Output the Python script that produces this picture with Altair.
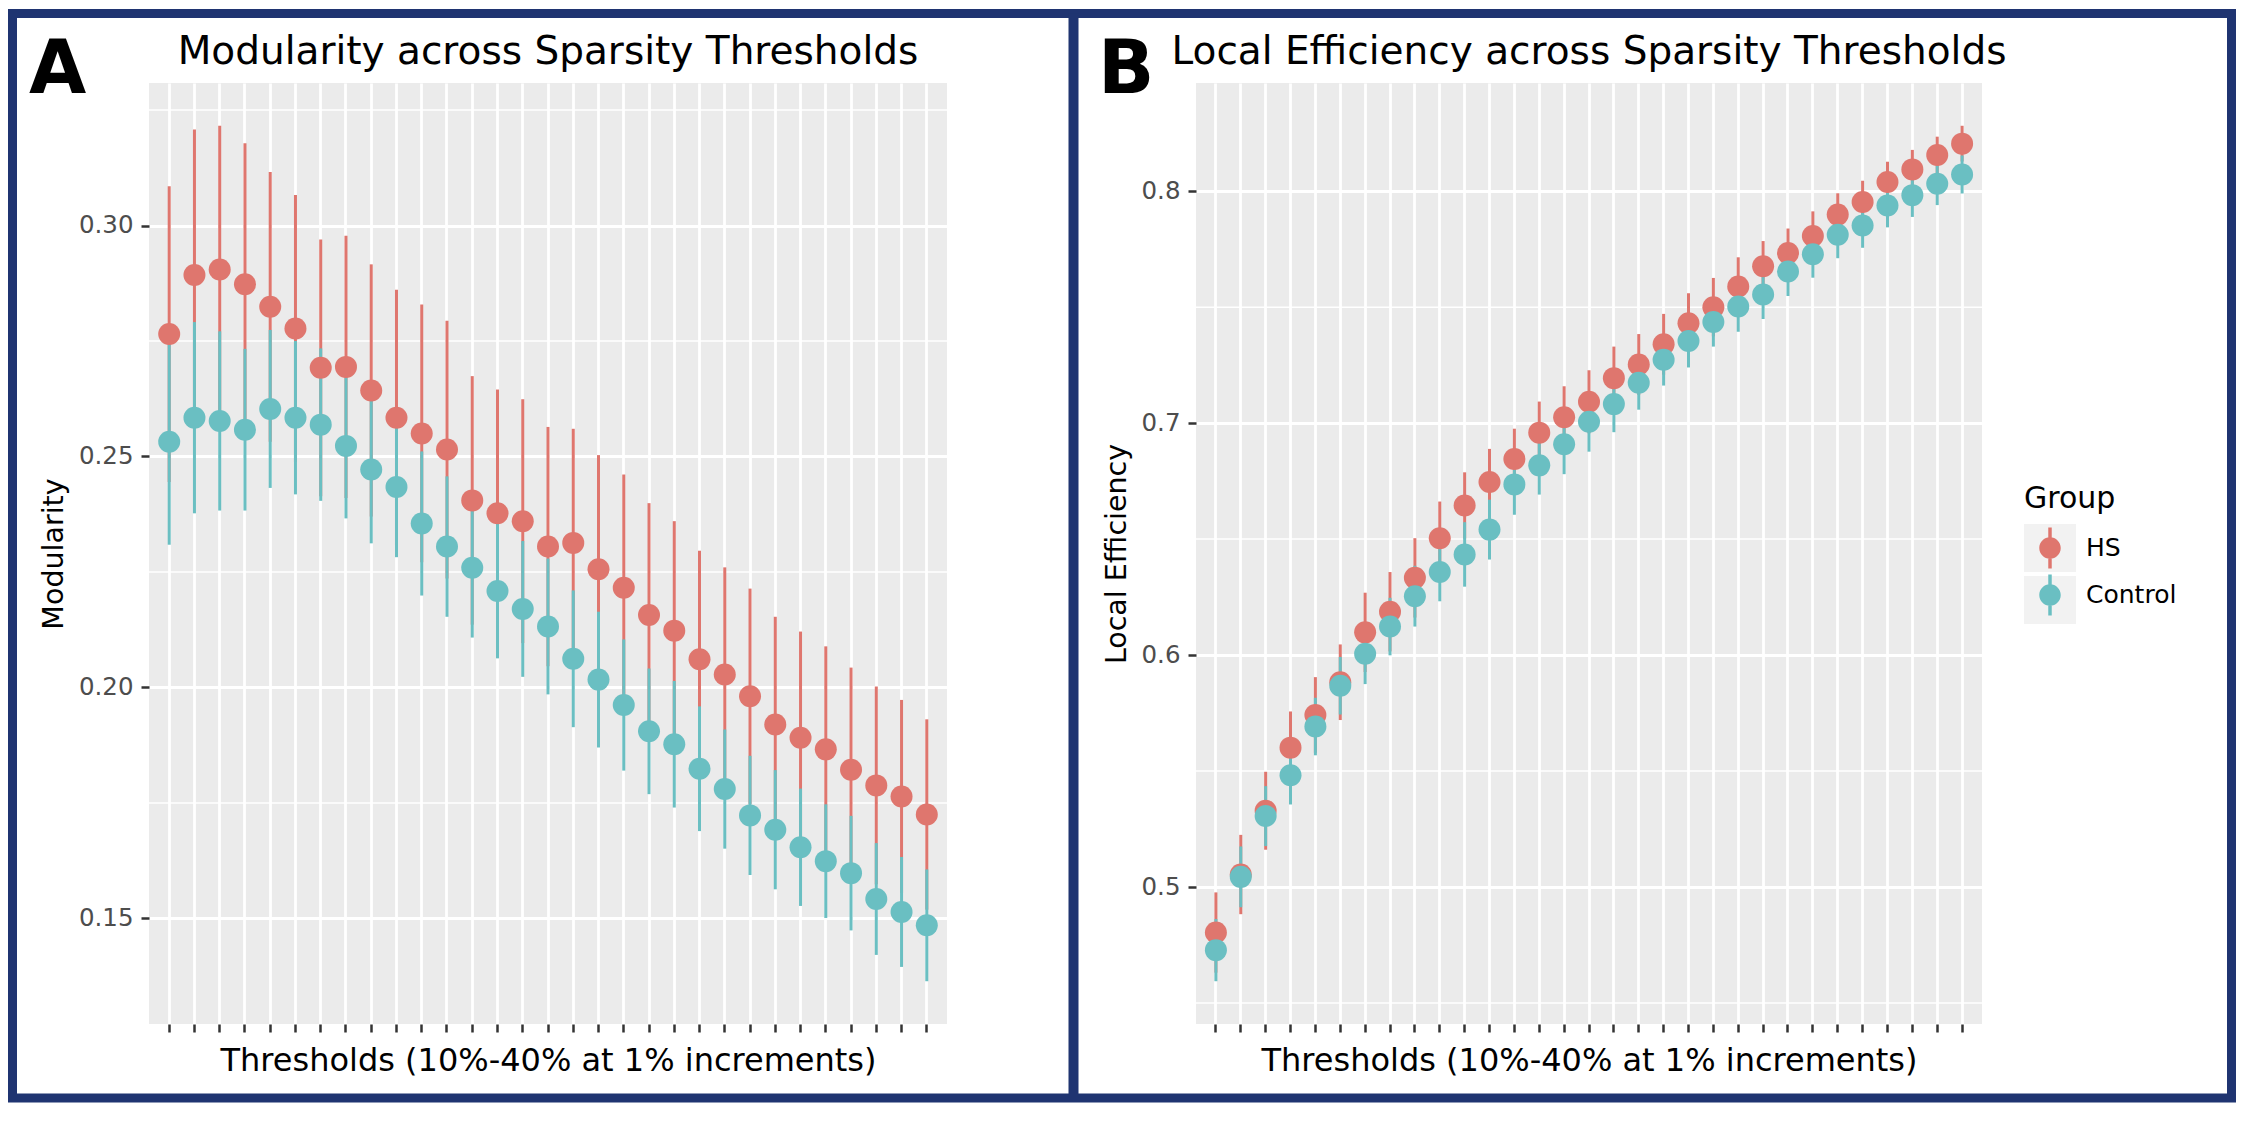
import altair as alt
import pandas as pd

FONT = "DejaVu Sans"
NAVY = "#1F3471"

thresholds = [f"{p}%" for p in range(10, 41)]
groups = ["HS", "Control"]
group_colors = ["#DF766E", "#6ABFC2"]

# Panel A: Modularity (mean and half-width of error bar)
mod_hs_mean = [0.2765, 0.2893, 0.2905, 0.2873, 0.2824, 0.2777, 0.2692, 0.2694, 0.2643, 0.2584, 0.2550,
               0.2515, 0.2405, 0.2377, 0.2360, 0.2305, 0.2313, 0.2256, 0.2216, 0.2157, 0.2123,
               0.2061, 0.2028, 0.1981, 0.1920, 0.1891, 0.1866, 0.1822, 0.1788, 0.1764, 0.1725]
mod_hs_se = [0.0320, 0.0315, 0.0311, 0.0305, 0.0292, 0.0289, 0.0278, 0.0284, 0.0273, 0.0277, 0.0279,
             0.0279, 0.0269, 0.0268, 0.0264, 0.0259, 0.0247, 0.0247, 0.0245, 0.0242, 0.0237,
             0.0235, 0.0232, 0.0233, 0.0233, 0.0230, 0.0223, 0.0221, 0.0214, 0.0209, 0.0206]
mod_ctl_mean = [0.2532, 0.2584, 0.2577, 0.2558, 0.2603, 0.2584, 0.2569, 0.2523, 0.2472, 0.2434, 0.2355,
                0.2305, 0.2259, 0.2209, 0.2170, 0.2132, 0.2062, 0.2017, 0.1962, 0.1905, 0.1877,
                0.1824, 0.1780, 0.1723, 0.1692, 0.1654, 0.1624, 0.1598, 0.1542, 0.1514, 0.1485]
mod_ctl_se = [0.0223, 0.0207, 0.0194, 0.0175, 0.0171, 0.0166, 0.0165, 0.0157, 0.0160, 0.0152, 0.0156,
              0.0152, 0.0151, 0.0146, 0.0147, 0.0147, 0.0148, 0.0147, 0.0142, 0.0136, 0.0137,
              0.0135, 0.0129, 0.0129, 0.0129, 0.0127, 0.0123, 0.0124, 0.0121, 0.0119, 0.0121]

# Panel B: Local Efficiency
le_hs_mean = [0.4804, 0.5054, 0.5329, 0.5601, 0.5742, 0.5883, 0.6098, 0.6187, 0.6333, 0.6504, 0.6645,
              0.6746, 0.6845, 0.6959, 0.7025, 0.7092, 0.7194, 0.7253, 0.7340, 0.7431, 0.7500,
              0.7589, 0.7676, 0.7733, 0.7807, 0.7899, 0.7953, 0.8040, 0.8094, 0.8156, 0.8205]
le_hs_se = [0.0173, 0.0171, 0.0168, 0.0156, 0.0163, 0.0163, 0.0171, 0.0171, 0.0171, 0.0158, 0.0143,
            0.0143, 0.0131, 0.0134, 0.0134, 0.0136, 0.0136, 0.0131, 0.0131, 0.0129, 0.0126,
            0.0126, 0.0109, 0.0106, 0.0106, 0.0092, 0.0092, 0.0087, 0.0084, 0.0079, 0.0077]
le_ctl_mean = [0.4728, 0.5044, 0.5306, 0.5482, 0.5692, 0.5868, 0.6006, 0.6123, 0.6254, 0.6358, 0.6434,
               0.6541, 0.6736, 0.6818, 0.6909, 0.7006, 0.7082, 0.7174, 0.7273, 0.7354, 0.7436,
               0.7503, 0.7555, 0.7654, 0.7728, 0.7812, 0.7852, 0.7938, 0.7983, 0.8032, 0.8072]
le_ctl_se = [0.0134, 0.0131, 0.0129, 0.0126, 0.0124, 0.0124, 0.0131, 0.0124, 0.0131, 0.0126, 0.0139,
             0.0129, 0.0131, 0.0126, 0.0129, 0.0129, 0.0121, 0.0116, 0.0111, 0.0114, 0.0106,
             0.0109, 0.0106, 0.0106, 0.0101, 0.0101, 0.0096, 0.0094, 0.0094, 0.0092, 0.0082]

mod_ticks = [0.15, 0.20, 0.25, 0.30]
mod_minor = [0.175, 0.225, 0.275, 0.325]
le_ticks = [0.5, 0.6, 0.7, 0.8]
le_minor = [0.45, 0.55, 0.65, 0.75]

title_a = "Modularity across Sparsity Thresholds"
title_b = "Local Efficiency across Sparsity Thresholds"
x_title = "Thresholds (10%-40% at 1% increments)"
legend_title = "Group"

W_A, W_B, H = 798, 786, 941

LEGEND_SYMBOL = ("M-0.413,0C-0.413,-0.228 -0.228,-0.413 0,-0.413C0.228,-0.413 0.413,-0.228 0.413,0"
                 "C0.413,0.228 0.228,0.413 0,0.413C-0.228,0.413 -0.413,0.228 -0.413,0Z"
                 "M-0.067,-0.79H0.067V0.79H-0.067Z")

LEGEND = alt.Legend(title=legend_title, orient="none", legendX=1875, legendY=401, padding=0,
                    titleFont=FONT, titleFontSize=30, titleFontWeight="normal", titleColor="black",
                    titlePadding=8, labelFont=FONT, labelFontSize=25, labelColor="black",
                    labelOffset=10, symbolType=LEGEND_SYMBOL, symbolSize=2704,
                    symbolStrokeWidth=0, rowPadding=0, symbolOpacity=1)


def make_df(hs_m, hs_s, c_m, c_s):
    rows = []
    for g, means, ses in (("HS", hs_m, hs_s), ("Control", c_m, c_s)):
        for t, m, s in zip(thresholds, means, ses):
            rows.append({"threshold": t, "group": g, "mean": m, "lo": m - s, "hi": m + s})
    return pd.DataFrame(rows)


def one_text(s):
    return alt.Chart(pd.DataFrame({"t": [s]}))


letter_x = {"A": -120, "B": -98}


def panel(df, minor, ticks, fmt, ytitle, title, letter, width, extras):
    lo, hi = df["lo"].min(), df["hi"].max()
    pad = (hi - lo) * 0.05
    yscale = alt.Scale(domain=[lo - pad, hi + pad], nice=False, zero=False)
    xaxis = alt.Axis(title=x_title, labels=False, domain=False, ticks=True, tickSize=8, tickWidth=2.5,
                     tickColor="#333333", grid=True, gridColor="white", gridWidth=2.8,
                     titleFont=FONT, titleFontSize=32, titleFontWeight="normal", titleColor="black",
                     titlePadding=12)
    yaxis = alt.Axis(title=ytitle, values=ticks, format=fmt, domain=False, tickSize=8, tickWidth=2.5,
                     tickColor="#333333", grid=True, gridColor="white", gridWidth=3,
                     labelFont=FONT, labelFontSize=24.5, labelColor="#4D4D4D", labelPadding=8,
                     titleFont=FONT, titleFontSize=28.5, titleFontWeight="normal", titleColor="black",
                     titlePadding=10)
    xenc = alt.X("threshold:N", sort=thresholds, scale=alt.Scale(domain=thresholds, padding=0.6), axis=xaxis)
    cscale = alt.Scale(domain=groups, range=group_colors)
    color = alt.Color("group:N", scale=cscale, legend=LEGEND)

    minor_layer = alt.Chart(pd.DataFrame({"v": minor})).mark_rule(color="white", strokeWidth=1.5).encode(
        y=alt.Y("v:Q", scale=yscale, axis=yaxis))
    bars = alt.Chart(df).mark_rule(strokeWidth=3).encode(
        x=xenc, y=alt.Y("lo:Q", scale=yscale, axis=yaxis), y2="hi:Q", color=color)
    pts = alt.Chart(df).mark_point(filled=True, opacity=1, size=484).encode(
        x=xenc, y=alt.Y("mean:Q", scale=yscale, axis=yaxis), color=color)
    ttl = one_text(title).mark_text(font=FONT, fontSize=39, align="center", baseline="alphabetic",
                                    color="black").encode(x=alt.value(width / 2), y=alt.value(-19), text="t:N")
    let = one_text(letter).mark_text(font=FONT, fontSize=74, fontWeight="bold", align="left",
                                     baseline="alphabetic", color="black").encode(
        x=alt.value(letter_x[letter]), y=alt.value(10), text="t:N")
    return alt.layer(minor_layer, bars, pts, ttl, let, *extras).properties(width=width, height=H)


frame_rect = one_text("").mark_rect(filled=False, stroke=NAVY, strokeWidth=9).encode(
    x=alt.value(-136.5), x2=alt.value(2082.5), y=alt.value(-69.5), y2=alt.value(1015))
divider = one_text("").mark_rule(color=NAVY, strokeWidth=10).encode(
    x=alt.value(924.5), y=alt.value(-69.5), y2=alt.value(1015))
key_bg1 = one_text("").mark_rect(color="#F2F2F2").encode(
    x=alt.value(828), x2=alt.value(880), y=alt.value(441), y2=alt.value(489))
key_bg2 = one_text("").mark_rect(color="#F2F2F2").encode(
    x=alt.value(828), x2=alt.value(880), y=alt.value(493), y2=alt.value(541))

df_a = make_df(mod_hs_mean, mod_hs_se, mod_ctl_mean, mod_ctl_se)
df_b = make_df(le_hs_mean, le_hs_se, le_ctl_mean, le_ctl_se)

chart_a = panel(df_a, mod_minor, mod_ticks, ".2f", "Modularity", title_a, "A", W_A, [frame_rect, divider])
chart_b = panel(df_b, le_minor, le_ticks, ".1f", "Local Efficiency", title_b, "B", W_B, [key_bg1, key_bg2])

chart = alt.hconcat(chart_a, chart_b, spacing=249, bounds="flush").properties(
    padding=0, background="white").configure_view(fill="#EBEBEB", stroke=None)

chart.save("out.html", embed_options={"renderer": "svg", "actions": False})
